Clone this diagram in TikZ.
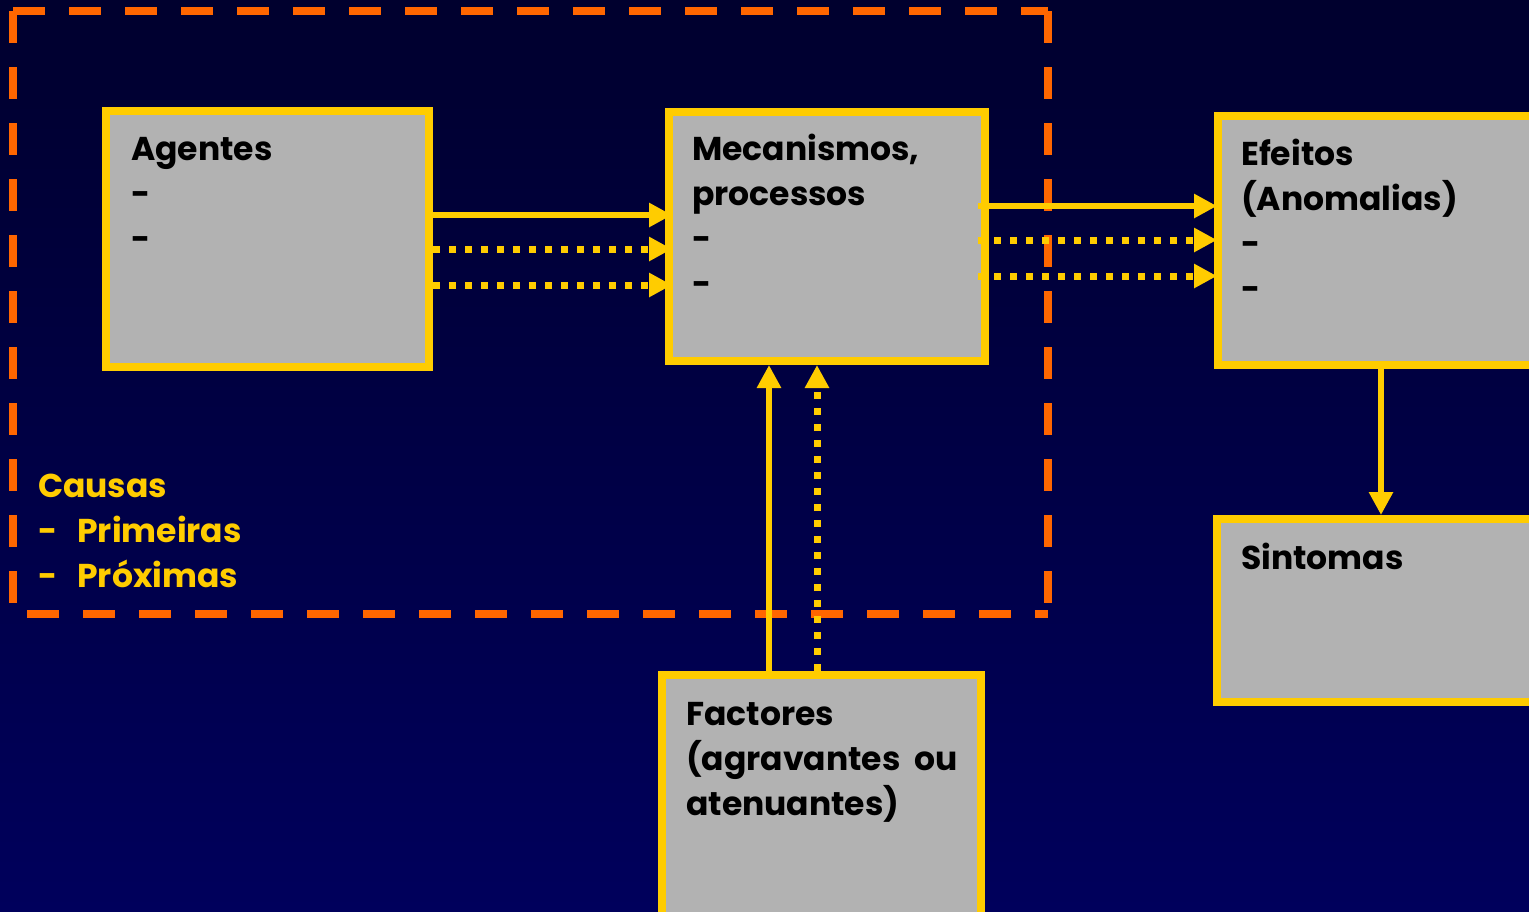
\documentclass[tikz,border=0pt]{standalone}
\usepackage{fontspec}
\setmainfont{Poppins}
\usetikzlibrary{arrows.meta}
\definecolor{yel}{HTML}{FFCC00}
\definecolor{boxgray}{HTML}{B2B2B2}
\definecolor{orng}{HTML}{FF6600}
\definecolor{bgtop}{HTML}{00002E}
\definecolor{bgbot}{HTML}{00005C}
\begin{document}
\begin{tikzpicture}[x=1pt,y=-1pt,
  cbox/.style={draw=yel,fill=boxgray,line width=8pt,rectangle,anchor=north west,inner sep=0pt},
  btxt/.style={anchor=base west,inner sep=0pt,font=\fontsize{33}{45}\selectfont\bfseries,text=black},
  ctxt/.style={anchor=base west,inner sep=0pt,font=\fontsize{33}{45}\selectfont\bfseries,text=yel},
  sarr/.style={draw=yel,line width=6pt,-{Triangle[length=23pt,width=23pt]}},
  darr/.style={draw=yel,line width=7pt,dash pattern=on 7pt off 9pt,-{Triangle[length=23pt,width=23pt]}},
  odash/.style={draw=orng,line width=8pt,dash pattern=on 32pt off 24pt}]
\useasboundingbox (0,0) rectangle (1529,911);
\clip (0,0) rectangle (1529,911);
\shade[top color=bgtop,bottom color=bgbot] (0,0) rectangle (1529,911);
% orange dashed frame
\coordinate (ftl) at (13,11);
\coordinate (ftr) at (1048,11);
\coordinate (fbl) at (13,614);
\coordinate (fbr) at (1048,614);
\draw[odash] (ftl) -- (ftr);
\draw[odash] (ftl) -- (fbl);
\draw[odash] ([xshift=14pt]fbl) -- (fbr);
\draw[odash] (ftr) -- (fbr);
% boxes
\node[cbox,minimum width=323pt,minimum height=256pt] (ag) at (102,107) {};
\node[cbox,minimum width=316pt,minimum height=249pt] (me) at (665,108) {};
\node[cbox,minimum width=323pt,minimum height=249pt] (ef) at (1214,112) {};
\node[cbox,minimum width=323pt,minimum height=183pt] (si) at (1213,515) {};
\node[cbox,minimum width=319pt,minimum height=241pt] (fa) at (658,671) {};
% texts
\node[btxt] (t1) at (131,160) {Agentes};
\node[btxt] (t2) at (131,205) {-};
\node[btxt] (t3) at (131,250) {-};
\node[btxt] (t4) at (692,160) {Mecanismos,};
\node[btxt] (t5) at (692,205) {processos};
\node[btxt] (t6) at (692,250) {-};
\node[btxt] (t7) at (692,295) {-};
\node[btxt] (t8) at (1241,165) {Efeitos};
\node[btxt] (t9) at (1241,210) {(Anomalias)};
\node[btxt] (t10) at (1241,255) {-};
\node[btxt] (t11) at (1241,300) {-};
\node[btxt] (t12) at (1241,569) {Sintomas};
\node[btxt] (t13) at (686,725) {Factores};
\node[btxt] (t14) at (686,770) {(agravantes\hspace{14pt}ou};
\node[btxt] (t15) at (686,815) {atenuantes)};
\node[ctxt] (c1) at (38,497) {Causas};
\node[ctxt] (c2) at (38,542) {-\hspace{20pt}Primeiras};
\node[ctxt] (c3) at (38,587) {-\hspace{20pt}Próximas};
% connectors
\draw[sarr,shorten >=-7pt] (ag.east |- 0,215) -- (me.west |- 0,215);
\draw[darr,shorten >=-7pt] (ag.east |- 0,249) -- (me.west |- 0,249);
\draw[darr,shorten >=-7pt] (ag.east |- 0,285) -- (me.west |- 0,285);
\draw[sarr,shorten <=-11pt,shorten >=-3pt] (me.east |- 0,206) -- (ef.west |- 0,206);
\draw[darr,shorten <=-11pt,shorten >=-3pt] (me.east |- 0,240) -- (ef.west |- 0,240);
\draw[darr,shorten <=-11pt,shorten >=-3pt] (me.east |- 0,276) -- (ef.west |- 0,276);
\draw[sarr] (fa.north -| 769,0) -- (me.south -| 769,0);
\draw[darr] (fa.north -| 817,0) -- (me.south -| 817,0);
\draw[sarr] (ef.south -| 1381,0) -- (si.north -| 1381,0);
\end{tikzpicture}
\end{document}
